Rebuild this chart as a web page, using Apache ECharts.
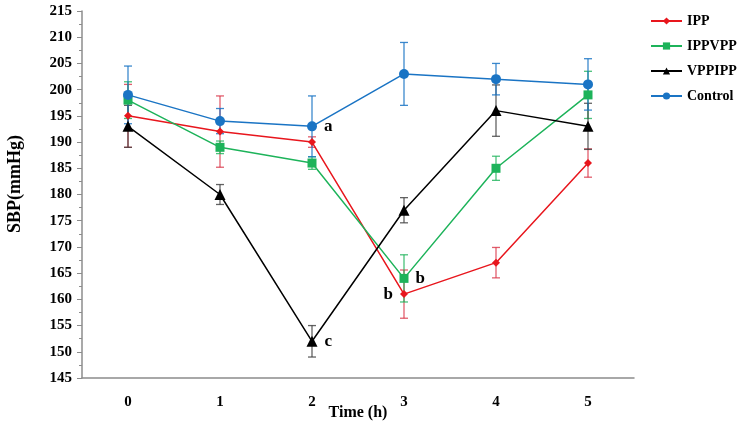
<!DOCTYPE html>
<html><head><meta charset="utf-8">
<script src="https://cdn.jsdelivr.net/npm/echarts@6/dist/echarts.min.js"></script>
<style>html,body{margin:0;padding:0;background:#fff}#c{width:745px;height:426px}</style>
</head><body><div id="c"></div>
<script>
var categories = ['0','1','2','3','4','5'];
var seriesNames = ['IPP','IPPVPP','VPPIPP','Control'];
var ippValues = [195, 192, 190, 161, 167, 186];
var ippErrors = [6, 6.8, 1, 4.6, 2.9, 2.7];
var ippvppValues = [198, 189, 186, 164, 185, 199];
var ippvppErrors = [3.5, 1.2, 1.2, 4.5, 2.3, 4.5];
var vppippValues = [193, 180, 152, 177, 196, 193];
var vppippErrors = [4, 1.9, 3, 2.4, 4.9, 4.4];
var controlValues = [199, 194, 193, 203, 202, 201];
var controlErrors = [5.5, 2.4, 5.8, 6, 3, 4.9];
// annotations: [seriesIndex, categoryIndex, text, side]
var annotations = [[3, 2, 'a', 'right'], [0, 3, 'b', 'left'], [1, 3, 'b', 'right'], [2, 2, 'c', 'right']];
var yAxisTitle = 'SBP(mmHg)';
var xAxisTitle = 'Time (h)';

var colors = ['#e8161d', '#1db35a', '#000000', '#1a74c4'];
var barColors = ['rgba(215,40,60,0.75)', 'rgba(29,179,90,0.8)', 'rgba(60,60,60,0.8)', 'rgba(26,116,196,0.85)'];
var symbols = ['diamond', 'rect', 'triangle', 'circle'];
var symbolSizes = [8, 9, 11, 10];
var allValues = [ippValues, ippvppValues, vppippValues, controlValues];
var allErrors = [ippErrors, ippvppErrors, vppippErrors, controlErrors];
var font = '"Liberation Serif","Times New Roman",serif';

var series = [];
allValues.forEach(function (vals, s) {
  series.push({
    type: 'line',
    name: seriesNames[s],
    z: 3,
    symbol: symbols[s],
    symbolSize: symbolSizes[s],
    showAllSymbol: true,
    lineStyle: { color: colors[s], width: 1.5 },
    itemStyle: { color: colors[s] },
    data: vals.map(function (v, i) {
      var item = { value: v };
      annotations.forEach(function (a) {
        if (a[0] === s && a[1] === i) {
          item.label = { show: true, formatter: a[2], position: a[3], distance: 7,
            fontFamily: font, fontWeight: 'bold', fontSize: 17, color: '#000' };
        }
      });
      return item;
    })
  });
});
allValues.forEach(function (vals, s) {
  var errs = allErrors[s];
  series.push({
    type: 'custom',
    name: seriesNames[s] + ' SD',
    z: 1,
    silent: true,
    data: vals.map(function (v, i) { return [i, v - errs[i], v + errs[i]]; }),
    renderItem: function (params, api) {
      var lo = api.coord([api.value(0), api.value(1)]);
      var hi = api.coord([api.value(0), api.value(2)]);
      var w = 4;
      var st = { stroke: barColors[s], lineWidth: 1.3 };
      return { type: 'group', children: [
        { type: 'line', shape: { x1: lo[0], y1: lo[1], x2: hi[0], y2: hi[1] }, style: st },
        { type: 'line', shape: { x1: lo[0] - w, y1: lo[1], x2: lo[0] + w, y2: lo[1] }, style: st },
        { type: 'line', shape: { x1: hi[0] - w, y1: hi[1], x2: hi[0] + w, y2: hi[1] }, style: st }
      ]};
    }
  });
});

var chart = echarts.init(document.getElementById('c'));
chart.setOption({
  animation: false,
  backgroundColor: '#fff',
  grid: { left: 82, right: 111, top: 11, bottom: 48, outerBoundsMode: 'none', containLabel: false },
  legend: {
    data: seriesNames,
    orient: 'vertical',
    left: 645, top: 9,
    itemWidth: 31, itemHeight: 9, itemGap: 11,
    textStyle: { fontFamily: font, fontWeight: 'bold', fontSize: 14, color: '#000' }
  },
  graphic: [{
    type: 'text', x: 15, y: 184, rotation: Math.PI / 2,
    style: { text: yAxisTitle, align: 'center', verticalAlign: 'middle',
      font: 'bold 18px ' + font, fill: '#000' }
  }],
  xAxis: {
    type: 'category',
    data: categories,
    boundaryGap: true,
    axisLine: { lineStyle: { color: '#8c8c8c', width: 1.5 } },
    axisTick: { show: false },
    axisLabel: { margin: 17, fontFamily: font, fontWeight: 'bold', fontSize: 15, color: '#000' },
    name: xAxisTitle,
    nameLocation: 'middle',
    nameGap: 27,
    nameMoveOverlap: false,
    nameTextStyle: { fontFamily: font, fontWeight: 'bold', fontSize: 16, color: '#000' }
  },
  yAxis: {
    type: 'value',
    min: 145, max: 215, interval: 5,
    axisLine: { show: true, lineStyle: { color: '#8c8c8c', width: 1.5 } },
    axisTick: { show: true, length: 5, lineStyle: { color: '#8c8c8c' } },
    minorTick: { show: true, splitNumber: 2, length: 3, lineStyle: { color: '#8c8c8c' } },
    splitLine: { show: false },
    axisLabel: { margin: 10, fontFamily: font, fontWeight: 'bold', fontSize: 15, color: '#000' }
  },
  series: series
});
</script></body></html>
